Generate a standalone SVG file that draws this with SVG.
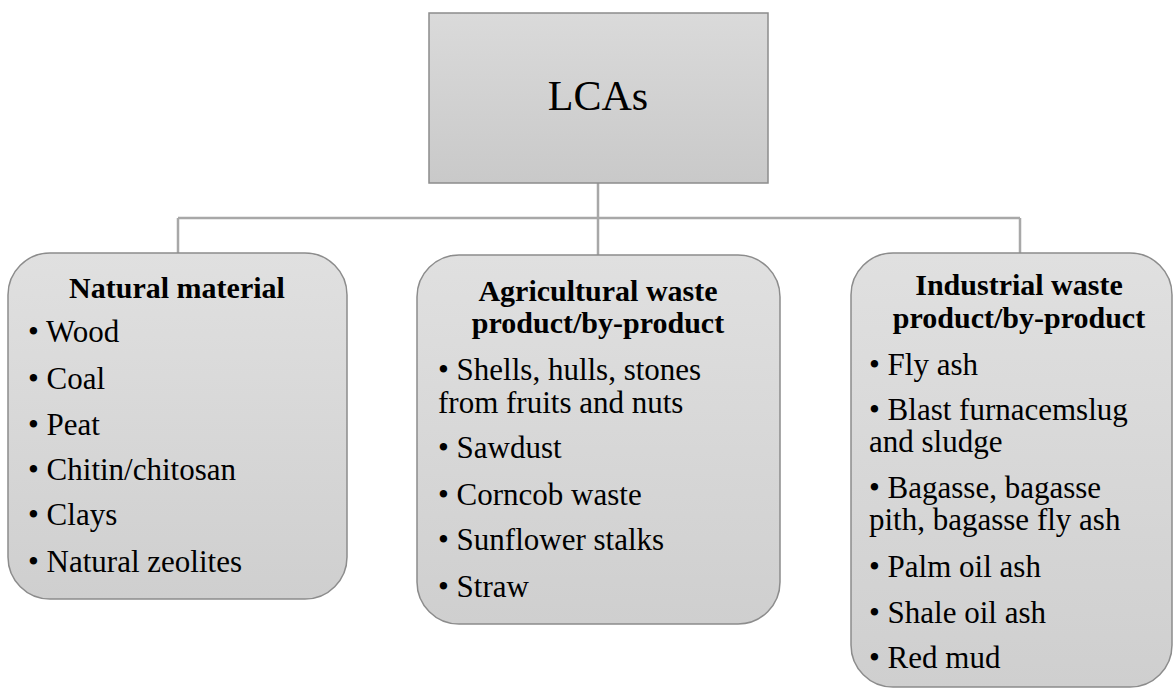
<svg xmlns="http://www.w3.org/2000/svg" width="1175" height="689" viewBox="0 0 1175 689">
  <defs>
    <linearGradient id="fillTop" x1="0" y1="0" x2="0" y2="1">
      <stop offset="0" stop-color="#dadada"/>
      <stop offset="1" stop-color="#c9c9c9"/>
    </linearGradient>
    <linearGradient id="fillBox" x1="0" y1="0" x2="0" y2="1">
      <stop offset="0" stop-color="#e0e0e0"/>
      <stop offset="1" stop-color="#cfcfcf"/>
    </linearGradient>
  </defs>
  <style>
    .box { fill: url(#fillBox); stroke: #8c8c8c; stroke-width: 1.5; }
    .root { fill: url(#fillTop); stroke: #8c8c8c; stroke-width: 1.5; }
    .link { fill: none; stroke: #a8a8a8; stroke-width: 2.5; }
    .title { font-size: 30px; font-weight: bold; text-anchor: middle; }
    .item { font-size: 31px; }
    .big { font-size: 42px; text-anchor: middle; }
  </style>

  <!-- tree connectors -->
  <g id="connectors">
    <path class="link" d="M598,183 V218 M178,218 H1020 M178,218 V253 M598,218 V255 M1020,218 V253"/>
  </g>

  <g font-family="Liberation Serif, Times New Roman, Tinos, Noto Serif, DejaVu Serif, serif" fill="#000">
  <!-- root -->
  <g id="lcas">
    <rect class="root" x="429" y="13" width="339" height="170"/>
    <text class="big" x="598" y="110">LCAs</text>
  </g>

  <!-- natural material -->
  <g id="natural">
    <rect class="box" x="8" y="253" width="339" height="346" rx="42" ry="42"/>
    <text class="title" x="177" y="298">Natural material</text>
    <text class="item" x="28" y="342">• Wood</text>
    <text class="item" x="28" y="389">• Coal</text>
    <text class="item" x="28" y="435">• Peat</text>
    <text class="item" x="28" y="480">• Chitin/chitosan</text>
    <text class="item" x="28" y="525">• Clays</text>
    <text class="item" x="28" y="572">• Natural zeolites</text>
  </g>

  <!-- agricultural waste -->
  <g id="agricultural">
    <rect class="box" x="417" y="255" width="363" height="369" rx="42" ry="42"/>
    <text class="title" x="598" y="301">Agricultural waste</text>
    <text class="title" x="598" y="333">product/by-product</text>
    <text class="item" x="438" y="380">• Shells, hulls, stones</text>
    <text class="item" x="438" y="413">from fruits and nuts</text>
    <text class="item" x="438" y="458">• Sawdust</text>
    <text class="item" x="438" y="505">• Corncob waste</text>
    <text class="item" x="438" y="550">• Sunflower stalks</text>
    <text class="item" x="438" y="597">• Straw</text>
  </g>

  <!-- industrial waste -->
  <g id="industrial">
    <rect class="box" x="851" y="253" width="321" height="434" rx="42" ry="42"/>
    <text class="title" x="1019" y="295">Industrial waste</text>
    <text class="title" x="1019" y="328">product/by-product</text>
    <text class="item" x="869" y="375">• Fly ash</text>
    <text class="item" x="869" y="420">• Blast furnacemslug</text>
    <text class="item" x="869" y="452">and sludge</text>
    <text class="item" x="869" y="498">• Bagasse, bagasse</text>
    <text class="item" x="869" y="530">pith, bagasse fly ash</text>
    <text class="item" x="869" y="577">• Palm oil ash</text>
    <text class="item" x="869" y="623">• Shale oil ash</text>
    <text class="item" x="869" y="668">• Red mud</text>
  </g>
  </g>
</svg>
